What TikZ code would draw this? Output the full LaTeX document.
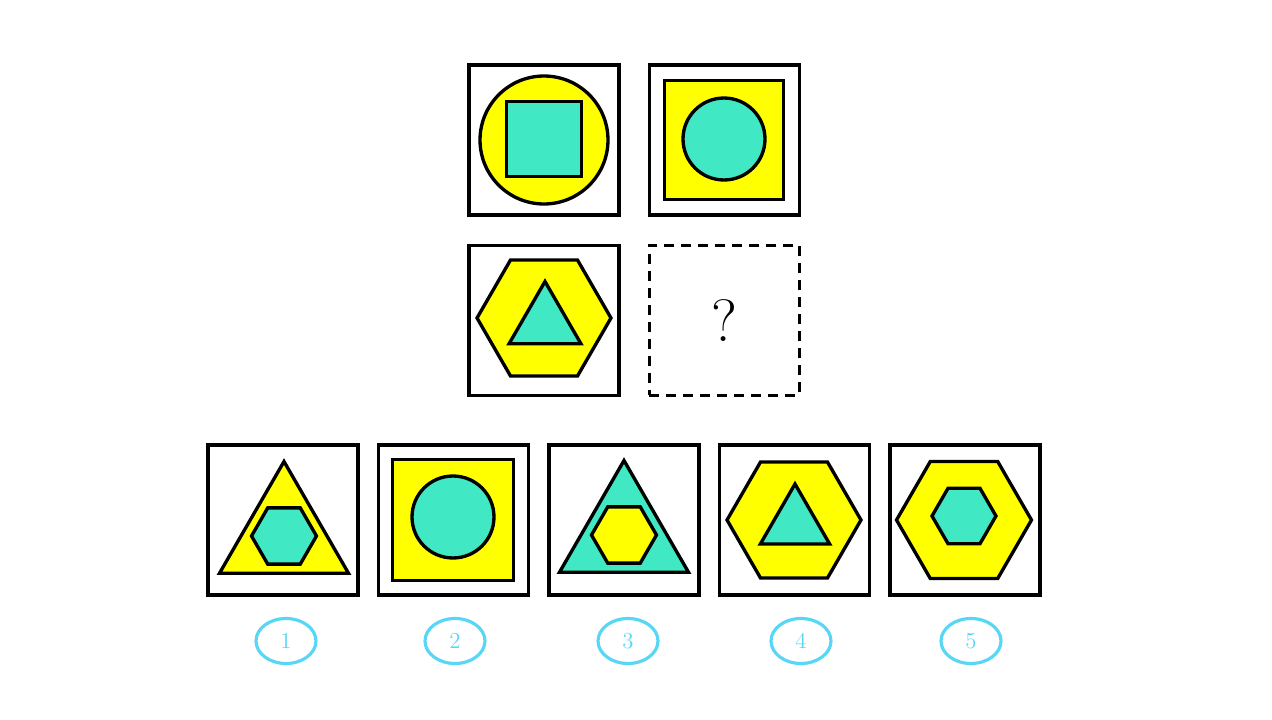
\documentclass[tikz,border=0pt]{standalone}
\usepackage{tikz}
\usetikzlibrary{positioning,shapes.geometric}
\definecolor{shapeyellow}{RGB}{255,255,0}
\definecolor{shapeteal}{RGB}{64,232,196}
\definecolor{lblblue}{RGB}{88,214,245}

\begin{document}
\begin{tikzpicture}[
  x=0.02cm, y=-0.02cm,
  frame/.style={draw, line width=2pt, minimum size=3cm, inner sep=0pt},
  blank/.style={frame, line width=1.8pt, dash pattern=on 0.2cm off 0.14cm},
  shp/.style={draw, line width=1.9pt, inner sep=0pt},
  yel/.style={shp, fill=shapeyellow},
  tea/.style={shp, fill=shapeteal},
  hexa/.style={regular polygon, regular polygon sides=6},
  tri/.style={regular polygon, regular polygon sides=3},
  lbl/.style={draw=lblblue, text=lblblue, ellipse, line width=1.8pt, minimum width=1.2cm, minimum height=0.9cm, inner sep=0pt, font=\fontsize{13}{15}\selectfont}
]
\useasboundingbox (0,0) rectangle (1272,720);

% puzzle grid
\node[frame] (qa) at (544,140) {};
\node[frame, right=0.54cm of qa] (qb) {};
\node[frame, below=0.54cm of qa] (qc) {};
\node[blank, right=0.54cm of qc] (qd) {\fontsize{34}{38}\selectfont ?};

\node[yel, circle, minimum size=2.56cm] (qa-out) at (544,140) {};
\node[tea, minimum size=1.5cm] (qa-in) at (544,139) {};
\node[yel, minimum size=2.38cm] (qb-out) at (724,140) {};
\node[tea, circle, minimum size=1.64cm] (qb-in) at (724,139) {};
\node[yel, hexa, minimum size=2.68cm] (qc-out) at (544,318) {};
\node[tea, tri, minimum size=1.66cm] (qc-in) at (545,323) {};

% answer choices
\node[frame] (c1) at (283,520) {};
\node[frame, right=0.34cm of c1] (c2) {};
\node[frame, right=0.34cm of c2] (c3) {};
\node[frame, right=0.34cm of c3] (c4) {};
\node[frame, right=0.34cm of c4] (c5) {};

\node[yel, tri, minimum size=2.98cm] (c1-out) at (284,536) {};
\node[tea, hexa, minimum size=1.3cm] (c1-in) at (284,536) {};
\node[yel, minimum size=2.42cm] (c2-out) at (453,520) {};
\node[tea, circle, minimum size=1.64cm] (c2-in) at (453,517) {};
\node[tea, tri, minimum size=2.98cm] (c3-out) at (624,535) {};
\node[yel, hexa, minimum size=1.3cm] (c3-in) at (624,535) {};
\node[yel, hexa, minimum size=2.68cm] (c4-out) at (794,520) {};
\node[tea, tri, minimum size=1.6cm] (c4-in) at (795,524) {};
\node[yel, hexa, minimum size=2.7cm] (c5-out) at (964,520) {};
\node[tea, hexa, minimum size=1.28cm] (c5-in) at (964,516) {};

\node[lbl] (l1) at (286,641) {1};
\node[lbl] (l2) at (455,641) {2};
\node[lbl] (l3) at (628,641) {3};
\node[lbl] (l4) at (801,641) {4};
\node[lbl] (l5) at (971,641) {5};
\end{tikzpicture}
\end{document}
